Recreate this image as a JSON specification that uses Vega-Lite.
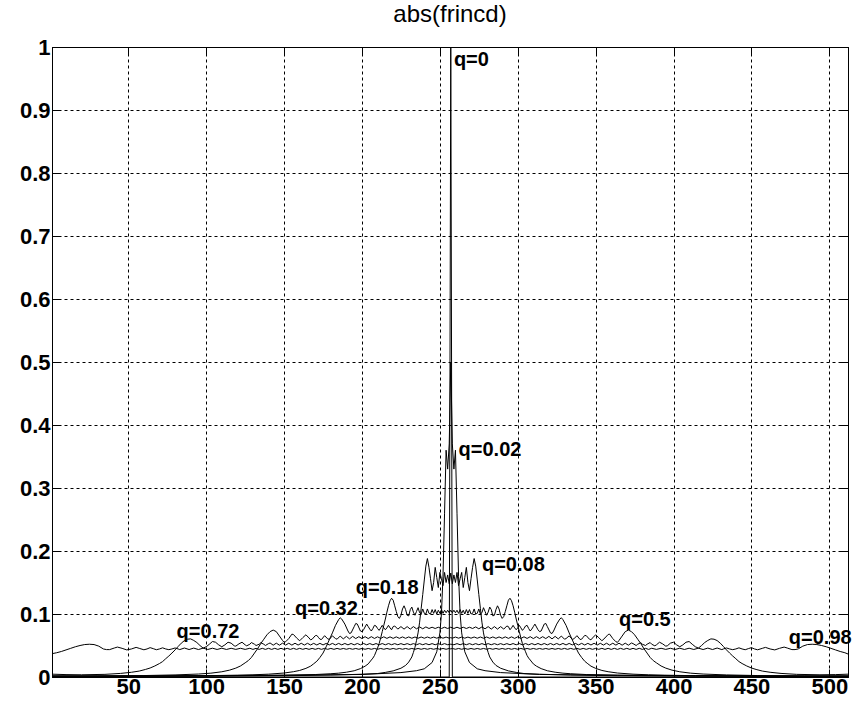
{
"$schema": "https://vega.github.io/schema/vega-lite/v6.json",
"width": 796, "height": 630,
"autosize": {"type": "none"},
"padding": {"left": 52, "top": 47, "right": 5, "bottom": 32},
"background": "white",
"title": {"text": "abs(frincd)", "fontSize": 24, "font": "Liberation Sans", "fontWeight": "normal", "color": "black", "offset": 9, "anchor": "middle"},
"config": {
  "view": {"stroke": "black", "strokeWidth": 1},
  "axis": {"domainColor": "black", "tickColor": "black", "labelColor": "black", "labelFont": "Liberation Sans", "labelFontSize": 22, "labelFontWeight": "bold", "gridColor": "black", "gridDash": [3, 3], "gridOpacity": 1, "gridWidth": 1, "tickSize": -8, "labelPadding": 8}
},
"datasets": {
"labels": [
{"t":"q=0","x":259,"y":0.98},
{"t":"q=0.02","x":262,"y":0.36},
{"t":"q=0.08","x":277,"y":0.178},
{"t":"q=0.18","x":196,"y":0.141},
{"t":"q=0.32","x":157,"y":0.108},
{"t":"q=0.72","x":81,"y":0.072},
{"t":"q=0.5","x":365,"y":0.091},
{"t":"q=0.98","x":474,"y":0.062}
],
"curves": [
{"q":"0","x":1,"y":0},{"q":"0","x":256,"y":0},{"q":"0","x":257,"y":1},{"q":"0","x":258,"y":0},{"q":"0","x":512,"y":0},
{"q":"0.02","x":1,"y":0.001},{"q":"0.02","x":100,"y":0.002},{"q":"0.02","x":200,"y":0.004},{"q":"0.02","x":225,"y":0.007},{"q":"0.02","x":235,"y":0.01},{"q":"0.02","x":240,"y":0.013},{"q":"0.02","x":245,"y":0.023},{"q":"0.02","x":248,"y":0.04},{"q":"0.02","x":250,"y":0.07},{"q":"0.02","x":251,"y":0.1},{"q":"0.02","x":252,"y":0.16},{"q":"0.02","x":253,"y":0.26},{"q":"0.02","x":254,"y":0.36},{"q":"0.02","x":255,"y":0.33},{"q":"0.02","x":256,"y":0.37},{"q":"0.02","x":257,"y":0.5},
{"q":"0.02","x":512,"y":0.001},{"q":"0.02","x":414,"y":0.002},{"q":"0.02","x":314,"y":0.004},{"q":"0.02","x":289,"y":0.007},{"q":"0.02","x":279,"y":0.01},{"q":"0.02","x":274,"y":0.013},{"q":"0.02","x":269,"y":0.023},{"q":"0.02","x":266,"y":0.04},{"q":"0.02","x":264,"y":0.07},{"q":"0.02","x":263,"y":0.1},{"q":"0.02","x":262,"y":0.16},{"q":"0.02","x":261,"y":0.26},{"q":"0.02","x":260,"y":0.36},{"q":"0.02","x":259,"y":0.33},{"q":"0.02","x":258,"y":0.37},
{"q":"0.08","x":1,"y":0.001},{"q":"0.08","x":100,"y":0.0015},{"q":"0.08","x":150,"y":0.002},{"q":"0.08","x":180,"y":0.003},{"q":"0.08","x":200,"y":0.0044},{"q":"0.08","x":210,"y":0.0055},{"q":"0.08","x":215,"y":0.0073},{"q":"0.08","x":220,"y":0.0097},{"q":"0.08","x":225,"y":0.0139},{"q":"0.08","x":228,"y":0.0184},{"q":"0.08","x":230,"y":0.0237},{"q":"0.08","x":232,"y":0.0318},{"q":"0.08","x":233,"y":0.039},{"q":"0.08","x":234,"y":0.047},{"q":"0.08","x":235,"y":0.058},{"q":"0.08","x":236,"y":0.07},{"q":"0.08","x":237,"y":0.087},{"q":"0.08","x":238,"y":0.109},{"q":"0.08","x":239,"y":0.131},{"q":"0.08","x":240,"y":0.154},{"q":"0.08","x":241,"y":0.176},{"q":"0.08","x":242,"y":0.188},{"q":"0.08","x":243,"y":0.174},{"q":"0.08","x":244,"y":0.156},{"q":"0.08","x":245,"y":0.137},{"q":"0.08","x":246,"y":0.15},{"q":"0.08","x":247,"y":0.174},{"q":"0.08","x":248,"y":0.158},{"q":"0.08","x":249,"y":0.142},{"q":"0.08","x":250,"y":0.166},{"q":"0.08","x":251,"y":0.156},{"q":"0.08","x":252,"y":0.145},{"q":"0.08","x":253,"y":0.166},{"q":"0.08","x":254,"y":0.15},{"q":"0.08","x":255,"y":0.162},{"q":"0.08","x":256,"y":0.148},{"q":"0.08","x":257,"y":0.165},
{"q":"0.08","x":512,"y":0.001},{"q":"0.08","x":414,"y":0.0015},{"q":"0.08","x":364,"y":0.002},{"q":"0.08","x":334,"y":0.003},{"q":"0.08","x":314,"y":0.0044},{"q":"0.08","x":304,"y":0.0055},{"q":"0.08","x":299,"y":0.0073},{"q":"0.08","x":294,"y":0.0097},{"q":"0.08","x":289,"y":0.0139},{"q":"0.08","x":286,"y":0.0184},{"q":"0.08","x":284,"y":0.0237},{"q":"0.08","x":282,"y":0.0318},{"q":"0.08","x":281,"y":0.039},{"q":"0.08","x":280,"y":0.047},{"q":"0.08","x":279,"y":0.058},{"q":"0.08","x":278,"y":0.07},{"q":"0.08","x":277,"y":0.087},{"q":"0.08","x":276,"y":0.109},{"q":"0.08","x":275,"y":0.131},{"q":"0.08","x":274,"y":0.154},{"q":"0.08","x":273,"y":0.176},{"q":"0.08","x":272,"y":0.188},{"q":"0.08","x":271,"y":0.174},{"q":"0.08","x":270,"y":0.156},{"q":"0.08","x":269,"y":0.137},{"q":"0.08","x":268,"y":0.15},{"q":"0.08","x":267,"y":0.174},{"q":"0.08","x":266,"y":0.158},{"q":"0.08","x":265,"y":0.142},{"q":"0.08","x":264,"y":0.166},{"q":"0.08","x":263,"y":0.156},{"q":"0.08","x":262,"y":0.145},{"q":"0.08","x":261,"y":0.166},{"q":"0.08","x":260,"y":0.15},{"q":"0.08","x":259,"y":0.162},{"q":"0.08","x":258,"y":0.148},
{"q":"0.18","x":1,"y":0.001},{"q":"0.18","x":100,"y":0.0015},{"q":"0.18","x":150,"y":0.0026},{"q":"0.18","x":170,"y":0.0039},{"q":"0.18","x":180,"y":0.0052},{"q":"0.18","x":185,"y":0.0061},{"q":"0.18","x":190,"y":0.0076},{"q":"0.18","x":195,"y":0.0099},{"q":"0.18","x":199,"y":0.0133},{"q":"0.18","x":202,"y":0.0172},{"q":"0.18","x":204,"y":0.0208},{"q":"0.18","x":206,"y":0.027},{"q":"0.18","x":207,"y":0.03},{"q":"0.18","x":208,"y":0.034},{"q":"0.18","x":209,"y":0.04},{"q":"0.18","x":210,"y":0.046},{"q":"0.18","x":211,"y":0.053},{"q":"0.18","x":212,"y":0.062},{"q":"0.18","x":213,"y":0.072},{"q":"0.18","x":214,"y":0.082},{"q":"0.18","x":215,"y":0.092},{"q":"0.18","x":216,"y":0.103},{"q":"0.18","x":217,"y":0.113},{"q":"0.18","x":218,"y":0.121},{"q":"0.18","x":219,"y":0.125},{"q":"0.18","x":220,"y":0.122},{"q":"0.18","x":221,"y":0.113},{"q":"0.18","x":222,"y":0.104},{"q":"0.18","x":223,"y":0.096},{"q":"0.18","x":224,"y":0.093},{"q":"0.18","x":225,"y":0.098},{"q":"0.18","x":226,"y":0.108},{"q":"0.18","x":227,"y":0.113},{"q":"0.18","x":228,"y":0.107},{"q":"0.18","x":229,"y":0.098},{"q":"0.18","x":230,"y":0.097},{"q":"0.18","x":231,"y":0.107},{"q":"0.18","x":232,"y":0.111},{"q":"0.18","x":233,"y":0.103},{"q":"0.18","x":234,"y":0.098},{"q":"0.18","x":235,"y":0.104},{"q":"0.18","x":236,"y":0.11},{"q":"0.18","x":237,"y":0.102},{"q":"0.18","x":238,"y":0.1},{"q":"0.18","x":239,"y":0.108},{"q":"0.18","x":240,"y":0.101},{"q":"0.18","x":241,"y":0.1},{"q":"0.18","x":242,"y":0.108},{"q":"0.18","x":243,"y":0.101},{"q":"0.18","x":244,"y":0.1},{"q":"0.18","x":245,"y":0.107},{"q":"0.18","x":246,"y":0.101},{"q":"0.18","x":247,"y":0.107},{"q":"0.18","x":248,"y":0.1},{"q":"0.18","x":249,"y":0.106},{"q":"0.18","x":250,"y":0.101},{"q":"0.18","x":251,"y":0.107},{"q":"0.18","x":252,"y":0.101},{"q":"0.18","x":253,"y":0.106},{"q":"0.18","x":254,"y":0.102},{"q":"0.18","x":255,"y":0.106},{"q":"0.18","x":256,"y":0.102},{"q":"0.18","x":257,"y":0.106},
{"q":"0.18","x":512,"y":0.001},{"q":"0.18","x":414,"y":0.0015},{"q":"0.18","x":364,"y":0.0026},{"q":"0.18","x":344,"y":0.0039},{"q":"0.18","x":334,"y":0.0052},{"q":"0.18","x":329,"y":0.0061},{"q":"0.18","x":324,"y":0.0076},{"q":"0.18","x":319,"y":0.0099},{"q":"0.18","x":315,"y":0.0133},{"q":"0.18","x":312,"y":0.0172},{"q":"0.18","x":310,"y":0.0208},{"q":"0.18","x":308,"y":0.027},{"q":"0.18","x":307,"y":0.03},{"q":"0.18","x":306,"y":0.034},{"q":"0.18","x":305,"y":0.04},{"q":"0.18","x":304,"y":0.046},{"q":"0.18","x":303,"y":0.053},{"q":"0.18","x":302,"y":0.062},{"q":"0.18","x":301,"y":0.072},{"q":"0.18","x":300,"y":0.082},{"q":"0.18","x":299,"y":0.092},{"q":"0.18","x":298,"y":0.103},{"q":"0.18","x":297,"y":0.113},{"q":"0.18","x":296,"y":0.121},{"q":"0.18","x":295,"y":0.125},{"q":"0.18","x":294,"y":0.122},{"q":"0.18","x":293,"y":0.113},{"q":"0.18","x":292,"y":0.104},{"q":"0.18","x":291,"y":0.096},{"q":"0.18","x":290,"y":0.093},{"q":"0.18","x":289,"y":0.098},{"q":"0.18","x":288,"y":0.108},{"q":"0.18","x":287,"y":0.113},{"q":"0.18","x":286,"y":0.107},{"q":"0.18","x":285,"y":0.098},{"q":"0.18","x":284,"y":0.097},{"q":"0.18","x":283,"y":0.107},{"q":"0.18","x":282,"y":0.111},{"q":"0.18","x":281,"y":0.103},{"q":"0.18","x":280,"y":0.098},{"q":"0.18","x":279,"y":0.104},{"q":"0.18","x":278,"y":0.11},{"q":"0.18","x":277,"y":0.102},{"q":"0.18","x":276,"y":0.1},{"q":"0.18","x":275,"y":0.108},{"q":"0.18","x":274,"y":0.101},{"q":"0.18","x":273,"y":0.1},{"q":"0.18","x":272,"y":0.108},{"q":"0.18","x":271,"y":0.101},{"q":"0.18","x":270,"y":0.1},{"q":"0.18","x":269,"y":0.107},{"q":"0.18","x":268,"y":0.101},{"q":"0.18","x":267,"y":0.107},{"q":"0.18","x":266,"y":0.1},{"q":"0.18","x":265,"y":0.106},{"q":"0.18","x":264,"y":0.101},{"q":"0.18","x":263,"y":0.107},{"q":"0.18","x":262,"y":0.101},{"q":"0.18","x":261,"y":0.106},{"q":"0.18","x":260,"y":0.102},{"q":"0.18","x":259,"y":0.106},{"q":"0.18","x":258,"y":0.102},
{"q":"0.32","x":1,"y":0.001},{"q":"0.32","x":60,"y":0.0014},{"q":"0.32","x":100,"y":0.0021},{"q":"0.32","x":120,"y":0.0029},{"q":"0.32","x":130,"y":0.0035},{"q":"0.32","x":140,"y":0.0045},{"q":"0.32","x":150,"y":0.0063},{"q":"0.32","x":156,"y":0.0084},{"q":"0.32","x":160,"y":0.0104},{"q":"0.32","x":164,"y":0.0137},{"q":"0.32","x":167,"y":0.0172},{"q":"0.32","x":169,"y":0.021},{"q":"0.32","x":171,"y":0.025},{"q":"0.32","x":173,"y":0.031},{"q":"0.32","x":175,"y":0.038},{"q":"0.32","x":177,"y":0.048},{"q":"0.32","x":179,"y":0.059},{"q":"0.32","x":181,"y":0.07},{"q":"0.32","x":183,"y":0.082},{"q":"0.32","x":185,"y":0.091},{"q":"0.32","x":186,"y":0.094},{"q":"0.32","x":187,"y":0.092},{"q":"0.32","x":189,"y":0.084},{"q":"0.32","x":191,"y":0.073},{"q":"0.32","x":192,"y":0.069},{"q":"0.32","x":193,"y":0.07},{"q":"0.32","x":195,"y":0.08},{"q":"0.32","x":196,"y":0.085},{"q":"0.32","x":197,"y":0.084},{"q":"0.32","x":199,"y":0.073},{"q":"0.32","x":200,"y":0.072},{"q":"0.32","x":201,"y":0.075},{"q":"0.32","x":203,"y":0.084},{"q":"0.32","x":204,"y":0.08},{"q":"0.32","x":205,"y":0.076},{"q":"0.32","x":206,"y":0.073},{"q":"0.32","x":207,"y":0.077},{"q":"0.32","x":208,"y":0.082},{"q":"0.32","x":209,"y":0.081},{"q":"0.32","x":210,"y":0.077},{"q":"0.32","x":211,"y":0.074},{"q":"0.32","x":212,"y":0.078},{"q":"0.32","x":213,"y":0.082},{"q":"0.32","x":214,"y":0.078},{"q":"0.32","x":215,"y":0.075},{"q":"0.32","x":216,"y":0.078},{"q":"0.32","x":217,"y":0.082},{"q":"0.32","x":218,"y":0.078},{"q":"0.32","x":219,"y":0.075},{"q":"0.32","x":220,"y":0.08},{"q":"0.32","x":221,"y":0.081},{"q":"0.32","x":223,"y":0.076},{"q":"0.32","x":225,"y":0.08},{"q":"0.32","x":227,"y":0.076},{"q":"0.32","x":229,"y":0.08},{"q":"0.32","x":231,"y":0.076},{"q":"0.32","x":233,"y":0.08},{"q":"0.32","x":235,"y":0.0765},{"q":"0.32","x":237,"y":0.0795},{"q":"0.32","x":239,"y":0.0765},{"q":"0.32","x":241,"y":0.0795},{"q":"0.32","x":243,"y":0.077},{"q":"0.32","x":245,"y":0.079},{"q":"0.32","x":247,"y":0.077},{"q":"0.32","x":249,"y":0.079},{"q":"0.32","x":251,"y":0.077},{"q":"0.32","x":253,"y":0.079},{"q":"0.32","x":255,"y":0.077},{"q":"0.32","x":257,"y":0.079},
{"q":"0.32","x":512,"y":0.001},{"q":"0.32","x":454,"y":0.0014},{"q":"0.32","x":414,"y":0.0021},{"q":"0.32","x":394,"y":0.0029},{"q":"0.32","x":384,"y":0.0035},{"q":"0.32","x":374,"y":0.0045},{"q":"0.32","x":364,"y":0.0063},{"q":"0.32","x":358,"y":0.0084},{"q":"0.32","x":354,"y":0.0104},{"q":"0.32","x":350,"y":0.0137},{"q":"0.32","x":347,"y":0.0172},{"q":"0.32","x":345,"y":0.021},{"q":"0.32","x":343,"y":0.025},{"q":"0.32","x":341,"y":0.031},{"q":"0.32","x":339,"y":0.038},{"q":"0.32","x":337,"y":0.048},{"q":"0.32","x":335,"y":0.059},{"q":"0.32","x":333,"y":0.07},{"q":"0.32","x":331,"y":0.082},{"q":"0.32","x":329,"y":0.091},{"q":"0.32","x":328,"y":0.094},{"q":"0.32","x":327,"y":0.092},{"q":"0.32","x":325,"y":0.084},{"q":"0.32","x":323,"y":0.073},{"q":"0.32","x":322,"y":0.069},{"q":"0.32","x":321,"y":0.07},{"q":"0.32","x":319,"y":0.08},{"q":"0.32","x":318,"y":0.085},{"q":"0.32","x":317,"y":0.084},{"q":"0.32","x":315,"y":0.073},{"q":"0.32","x":314,"y":0.072},{"q":"0.32","x":313,"y":0.075},{"q":"0.32","x":311,"y":0.084},{"q":"0.32","x":310,"y":0.08},{"q":"0.32","x":309,"y":0.076},{"q":"0.32","x":308,"y":0.073},{"q":"0.32","x":307,"y":0.077},{"q":"0.32","x":306,"y":0.082},{"q":"0.32","x":305,"y":0.081},{"q":"0.32","x":304,"y":0.077},{"q":"0.32","x":303,"y":0.074},{"q":"0.32","x":302,"y":0.078},{"q":"0.32","x":301,"y":0.082},{"q":"0.32","x":300,"y":0.078},{"q":"0.32","x":299,"y":0.075},{"q":"0.32","x":298,"y":0.078},{"q":"0.32","x":297,"y":0.082},{"q":"0.32","x":296,"y":0.078},{"q":"0.32","x":295,"y":0.075},{"q":"0.32","x":294,"y":0.08},{"q":"0.32","x":293,"y":0.081},{"q":"0.32","x":291,"y":0.076},{"q":"0.32","x":289,"y":0.08},{"q":"0.32","x":287,"y":0.076},{"q":"0.32","x":285,"y":0.08},{"q":"0.32","x":283,"y":0.076},{"q":"0.32","x":281,"y":0.08},{"q":"0.32","x":279,"y":0.0765},{"q":"0.32","x":277,"y":0.0795},{"q":"0.32","x":275,"y":0.0765},{"q":"0.32","x":273,"y":0.0795},{"q":"0.32","x":271,"y":0.077},{"q":"0.32","x":269,"y":0.079},{"q":"0.32","x":267,"y":0.077},{"q":"0.32","x":265,"y":0.079},{"q":"0.32","x":263,"y":0.077},{"q":"0.32","x":261,"y":0.079},{"q":"0.32","x":259,"y":0.077},
{"q":"0.5","x":1,"y":0.002},{"q":"0.5","x":30,"y":0.0018},{"q":"0.5","x":60,"y":0.0023},{"q":"0.5","x":80,"y":0.0033},{"q":"0.5","x":95,"y":0.0047},{"q":"0.5","x":103,"y":0.0061},{"q":"0.5","x":110,"y":0.0083},{"q":"0.5","x":115,"y":0.0109},{"q":"0.5","x":119,"y":0.0141},{"q":"0.5","x":122,"y":0.0175},{"q":"0.5","x":125,"y":0.0225},{"q":"0.5","x":127,"y":0.026},{"q":"0.5","x":129,"y":0.031},{"q":"0.5","x":131,"y":0.038},{"q":"0.5","x":133,"y":0.045},{"q":"0.5","x":135,"y":0.053},{"q":"0.5","x":137,"y":0.06},{"q":"0.5","x":139,"y":0.067},{"q":"0.5","x":141,"y":0.072},{"q":"0.5","x":143,"y":0.0745},{"q":"0.5","x":145,"y":0.072},{"q":"0.5","x":147,"y":0.065},{"q":"0.5","x":149,"y":0.058},{"q":"0.5","x":150,"y":0.055},{"q":"0.5","x":151,"y":0.056},{"q":"0.5","x":153,"y":0.061},{"q":"0.5","x":155,"y":0.068},{"q":"0.5","x":156,"y":0.0675},{"q":"0.5","x":158,"y":0.062},{"q":"0.5","x":160,"y":0.0575},{"q":"0.5","x":162,"y":0.0625},{"q":"0.5","x":164,"y":0.067},{"q":"0.5","x":166,"y":0.062},{"q":"0.5","x":167,"y":0.059},{"q":"0.5","x":168,"y":0.06},{"q":"0.5","x":170,"y":0.0656},{"q":"0.5","x":171,"y":0.066},{"q":"0.5","x":172,"y":0.063},{"q":"0.5","x":173,"y":0.06},{"q":"0.5","x":174,"y":0.0595},{"q":"0.5","x":176,"y":0.0656},{"q":"0.5","x":178,"y":0.0605},{"q":"0.5","x":179,"y":0.0597},{"q":"0.5","x":181,"y":0.0653},{"q":"0.5","x":183,"y":0.061},{"q":"0.5","x":184,"y":0.06},{"q":"0.5","x":186,"y":0.065},{"q":"0.5","x":188,"y":0.0605},{"q":"0.5","x":190,"y":0.0645},{"q":"0.5","x":192,"y":0.0605},{"q":"0.5","x":194,"y":0.0645},{"q":"0.5","x":196,"y":0.061},{"q":"0.5","x":198,"y":0.064},{"q":"0.5","x":200,"y":0.061},{"q":"0.5","x":202,"y":0.064},{"q":"0.5","x":204,"y":0.061},{"q":"0.5","x":206,"y":0.064},{"q":"0.5","x":208,"y":0.0612},{"q":"0.5","x":210,"y":0.0638},{"q":"0.5","x":212,"y":0.0612},{"q":"0.5","x":214,"y":0.0638},{"q":"0.5","x":216,"y":0.0613},{"q":"0.5","x":218,"y":0.0637},{"q":"0.5","x":220,"y":0.0613},{"q":"0.5","x":222,"y":0.0637},{"q":"0.5","x":224,"y":0.0614},{"q":"0.5","x":226,"y":0.0636},{"q":"0.5","x":228,"y":0.0614},{"q":"0.5","x":230,"y":0.0636},{"q":"0.5","x":232,"y":0.0615},{"q":"0.5","x":234,"y":0.0635},{"q":"0.5","x":236,"y":0.0615},{"q":"0.5","x":238,"y":0.0635},{"q":"0.5","x":240,"y":0.0615},{"q":"0.5","x":242,"y":0.0635},{"q":"0.5","x":244,"y":0.0616},{"q":"0.5","x":246,"y":0.0634},{"q":"0.5","x":248,"y":0.0616},{"q":"0.5","x":250,"y":0.0634},{"q":"0.5","x":252,"y":0.0616},{"q":"0.5","x":254,"y":0.0634},{"q":"0.5","x":256,"y":0.0616},{"q":"0.5","x":257,"y":0.0625},
{"q":"0.5","x":512,"y":0.002},{"q":"0.5","x":484,"y":0.0018},{"q":"0.5","x":454,"y":0.0023},{"q":"0.5","x":434,"y":0.0033},{"q":"0.5","x":419,"y":0.0047},{"q":"0.5","x":411,"y":0.0061},{"q":"0.5","x":404,"y":0.0083},{"q":"0.5","x":399,"y":0.0109},{"q":"0.5","x":395,"y":0.0141},{"q":"0.5","x":392,"y":0.0175},{"q":"0.5","x":389,"y":0.0225},{"q":"0.5","x":387,"y":0.026},{"q":"0.5","x":385,"y":0.031},{"q":"0.5","x":383,"y":0.038},{"q":"0.5","x":381,"y":0.045},{"q":"0.5","x":379,"y":0.053},{"q":"0.5","x":377,"y":0.06},{"q":"0.5","x":375,"y":0.067},{"q":"0.5","x":373,"y":0.072},{"q":"0.5","x":371,"y":0.0745},{"q":"0.5","x":369,"y":0.072},{"q":"0.5","x":367,"y":0.065},{"q":"0.5","x":365,"y":0.058},{"q":"0.5","x":364,"y":0.055},{"q":"0.5","x":363,"y":0.056},{"q":"0.5","x":361,"y":0.061},{"q":"0.5","x":359,"y":0.068},{"q":"0.5","x":358,"y":0.0675},{"q":"0.5","x":356,"y":0.062},{"q":"0.5","x":354,"y":0.0575},{"q":"0.5","x":352,"y":0.0625},{"q":"0.5","x":350,"y":0.067},{"q":"0.5","x":348,"y":0.062},{"q":"0.5","x":347,"y":0.059},{"q":"0.5","x":346,"y":0.06},{"q":"0.5","x":344,"y":0.0656},{"q":"0.5","x":343,"y":0.066},{"q":"0.5","x":342,"y":0.063},{"q":"0.5","x":341,"y":0.06},{"q":"0.5","x":340,"y":0.0595},{"q":"0.5","x":338,"y":0.0656},{"q":"0.5","x":336,"y":0.0605},{"q":"0.5","x":335,"y":0.0597},{"q":"0.5","x":333,"y":0.0653},{"q":"0.5","x":331,"y":0.061},{"q":"0.5","x":330,"y":0.06},{"q":"0.5","x":328,"y":0.065},{"q":"0.5","x":326,"y":0.0605},{"q":"0.5","x":324,"y":0.0645},{"q":"0.5","x":322,"y":0.0605},{"q":"0.5","x":320,"y":0.0645},{"q":"0.5","x":318,"y":0.061},{"q":"0.5","x":316,"y":0.064},{"q":"0.5","x":314,"y":0.061},{"q":"0.5","x":312,"y":0.064},{"q":"0.5","x":310,"y":0.061},{"q":"0.5","x":308,"y":0.064},{"q":"0.5","x":306,"y":0.0612},{"q":"0.5","x":304,"y":0.0638},{"q":"0.5","x":302,"y":0.0612},{"q":"0.5","x":300,"y":0.0638},{"q":"0.5","x":298,"y":0.0613},{"q":"0.5","x":296,"y":0.0637},{"q":"0.5","x":294,"y":0.0613},{"q":"0.5","x":292,"y":0.0637},{"q":"0.5","x":290,"y":0.0614},{"q":"0.5","x":288,"y":0.0636},{"q":"0.5","x":286,"y":0.0614},{"q":"0.5","x":284,"y":0.0636},{"q":"0.5","x":282,"y":0.0615},{"q":"0.5","x":280,"y":0.0635},{"q":"0.5","x":278,"y":0.0615},{"q":"0.5","x":276,"y":0.0635},{"q":"0.5","x":274,"y":0.0615},{"q":"0.5","x":272,"y":0.0635},{"q":"0.5","x":270,"y":0.0616},{"q":"0.5","x":268,"y":0.0634},{"q":"0.5","x":266,"y":0.0616},{"q":"0.5","x":264,"y":0.0634},{"q":"0.5","x":262,"y":0.0616},{"q":"0.5","x":260,"y":0.0634},{"q":"0.5","x":258,"y":0.0616},
{"q":"0.72","x":1,"y":0.0045},{"q":"0.72","x":10,"y":0.0038},{"q":"0.72","x":20,"y":0.0035},{"q":"0.72","x":35,"y":0.0042},{"q":"0.72","x":45,"y":0.0057},{"q":"0.72","x":52,"y":0.0075},{"q":"0.72","x":57,"y":0.0094},{"q":"0.72","x":61,"y":0.012},{"q":"0.72","x":64,"y":0.0143},{"q":"0.72","x":67,"y":0.0175},{"q":"0.72","x":70,"y":0.0214},{"q":"0.72","x":72,"y":0.0245},{"q":"0.72","x":74,"y":0.029},{"q":"0.72","x":76,"y":0.0333},{"q":"0.72","x":78,"y":0.038},{"q":"0.72","x":80,"y":0.043},{"q":"0.72","x":82,"y":0.0485},{"q":"0.72","x":84,"y":0.0537},{"q":"0.72","x":86,"y":0.0578},{"q":"0.72","x":88,"y":0.06},{"q":"0.72","x":90,"y":0.0605},{"q":"0.72","x":92,"y":0.058},{"q":"0.72","x":94,"y":0.0547},{"q":"0.72","x":96,"y":0.05},{"q":"0.72","x":98,"y":0.0459},{"q":"0.72","x":100,"y":0.048},{"q":"0.72","x":102,"y":0.052},{"q":"0.72","x":104,"y":0.0563},{"q":"0.72","x":106,"y":0.0552},{"q":"0.72","x":108,"y":0.051},{"q":"0.72","x":110,"y":0.048},{"q":"0.72","x":112,"y":0.051},{"q":"0.72","x":114,"y":0.0552},{"q":"0.72","x":116,"y":0.0537},{"q":"0.72","x":118,"y":0.0495},{"q":"0.72","x":119,"y":0.049},{"q":"0.72","x":121,"y":0.0526},{"q":"0.72","x":123,"y":0.0552},{"q":"0.72","x":125,"y":0.051},{"q":"0.72","x":126,"y":0.0495},{"q":"0.72","x":128,"y":0.052},{"q":"0.72","x":129,"y":0.0547},{"q":"0.72","x":131,"y":0.052},{"q":"0.72","x":132,"y":0.05},{"q":"0.72","x":134,"y":0.052},{"q":"0.72","x":135,"y":0.0544},{"q":"0.72","x":137,"y":0.052},{"q":"0.72","x":138,"y":0.05},{"q":"0.72","x":140,"y":0.053},{"q":"0.72","x":141,"y":0.054},
{"q":"0.72","x":143,"y":0.0505},{"q":"0.72","x":145,"y":0.0537},{"q":"0.72","x":147,"y":0.0505},{"q":"0.72","x":149,"y":0.0537},{"q":"0.72","x":151,"y":0.0506},{"q":"0.72","x":153,"y":0.0536},{"q":"0.72","x":155,"y":0.0506},{"q":"0.72","x":157,"y":0.0536},{"q":"0.72","x":159,"y":0.0507},{"q":"0.72","x":161,"y":0.0535},{"q":"0.72","x":163,"y":0.0507},{"q":"0.72","x":165,"y":0.0535},{"q":"0.72","x":167,"y":0.0508},{"q":"0.72","x":169,"y":0.0534},{"q":"0.72","x":171,"y":0.0508},{"q":"0.72","x":173,"y":0.0534},{"q":"0.72","x":175,"y":0.0509},{"q":"0.72","x":177,"y":0.0533},{"q":"0.72","x":179,"y":0.0509},{"q":"0.72","x":181,"y":0.0533},{"q":"0.72","x":183,"y":0.0509},{"q":"0.72","x":185,"y":0.0533},{"q":"0.72","x":187,"y":0.051},{"q":"0.72","x":189,"y":0.0532},{"q":"0.72","x":191,"y":0.051},{"q":"0.72","x":193,"y":0.0532},{"q":"0.72","x":195,"y":0.051},{"q":"0.72","x":197,"y":0.0532},{"q":"0.72","x":199,"y":0.051},{"q":"0.72","x":201,"y":0.0532},{"q":"0.72","x":203,"y":0.0511},{"q":"0.72","x":205,"y":0.0531},{"q":"0.72","x":207,"y":0.0511},{"q":"0.72","x":209,"y":0.0531},{"q":"0.72","x":211,"y":0.0511},{"q":"0.72","x":213,"y":0.0531},{"q":"0.72","x":215,"y":0.0511},{"q":"0.72","x":217,"y":0.0531},{"q":"0.72","x":219,"y":0.0512},{"q":"0.72","x":221,"y":0.053},{"q":"0.72","x":223,"y":0.0512},{"q":"0.72","x":225,"y":0.053},{"q":"0.72","x":227,"y":0.0512},{"q":"0.72","x":229,"y":0.053},{"q":"0.72","x":231,"y":0.0512},{"q":"0.72","x":233,"y":0.053},{"q":"0.72","x":235,"y":0.0512},{"q":"0.72","x":237,"y":0.053},{"q":"0.72","x":239,"y":0.0512},{"q":"0.72","x":241,"y":0.053},{"q":"0.72","x":243,"y":0.0512},{"q":"0.72","x":245,"y":0.053},{"q":"0.72","x":247,"y":0.0512},{"q":"0.72","x":249,"y":0.053},{"q":"0.72","x":251,"y":0.0512},{"q":"0.72","x":253,"y":0.053},{"q":"0.72","x":255,"y":0.0512},{"q":"0.72","x":257,"y":0.0521},
{"q":"0.72","x":512,"y":0.0045},{"q":"0.72","x":504,"y":0.0038},{"q":"0.72","x":494,"y":0.0035},{"q":"0.72","x":479,"y":0.0042},{"q":"0.72","x":469,"y":0.0057},{"q":"0.72","x":462,"y":0.0075},{"q":"0.72","x":457,"y":0.0094},{"q":"0.72","x":453,"y":0.012},{"q":"0.72","x":450,"y":0.0143},{"q":"0.72","x":447,"y":0.0175},{"q":"0.72","x":444,"y":0.0214},{"q":"0.72","x":442,"y":0.0245},{"q":"0.72","x":440,"y":0.029},{"q":"0.72","x":438,"y":0.0333},{"q":"0.72","x":436,"y":0.038},{"q":"0.72","x":434,"y":0.043},{"q":"0.72","x":432,"y":0.0485},{"q":"0.72","x":430,"y":0.0537},{"q":"0.72","x":428,"y":0.0578},{"q":"0.72","x":426,"y":0.06},{"q":"0.72","x":424,"y":0.0605},{"q":"0.72","x":422,"y":0.058},{"q":"0.72","x":420,"y":0.0547},{"q":"0.72","x":418,"y":0.05},{"q":"0.72","x":416,"y":0.0459},{"q":"0.72","x":414,"y":0.048},{"q":"0.72","x":412,"y":0.052},{"q":"0.72","x":410,"y":0.0563},{"q":"0.72","x":408,"y":0.0552},{"q":"0.72","x":406,"y":0.051},{"q":"0.72","x":404,"y":0.048},{"q":"0.72","x":402,"y":0.051},{"q":"0.72","x":400,"y":0.0552},{"q":"0.72","x":398,"y":0.0537},{"q":"0.72","x":396,"y":0.0495},{"q":"0.72","x":395,"y":0.049},{"q":"0.72","x":393,"y":0.0526},{"q":"0.72","x":391,"y":0.0552},{"q":"0.72","x":389,"y":0.051},{"q":"0.72","x":388,"y":0.0495},{"q":"0.72","x":386,"y":0.052},{"q":"0.72","x":385,"y":0.0547},{"q":"0.72","x":383,"y":0.052},{"q":"0.72","x":382,"y":0.05},{"q":"0.72","x":380,"y":0.052},{"q":"0.72","x":379,"y":0.0544},{"q":"0.72","x":377,"y":0.052},{"q":"0.72","x":376,"y":0.05},{"q":"0.72","x":374,"y":0.053},{"q":"0.72","x":373,"y":0.054},
{"q":"0.72","x":371,"y":0.0505},{"q":"0.72","x":369,"y":0.0537},{"q":"0.72","x":367,"y":0.0505},{"q":"0.72","x":365,"y":0.0537},{"q":"0.72","x":363,"y":0.0506},{"q":"0.72","x":361,"y":0.0536},{"q":"0.72","x":359,"y":0.0506},{"q":"0.72","x":357,"y":0.0536},{"q":"0.72","x":355,"y":0.0507},{"q":"0.72","x":353,"y":0.0535},{"q":"0.72","x":351,"y":0.0507},{"q":"0.72","x":349,"y":0.0535},{"q":"0.72","x":347,"y":0.0508},{"q":"0.72","x":345,"y":0.0534},{"q":"0.72","x":343,"y":0.0508},{"q":"0.72","x":341,"y":0.0534},{"q":"0.72","x":339,"y":0.0509},{"q":"0.72","x":337,"y":0.0533},{"q":"0.72","x":335,"y":0.0509},{"q":"0.72","x":333,"y":0.0533},{"q":"0.72","x":331,"y":0.0509},{"q":"0.72","x":329,"y":0.0533},{"q":"0.72","x":327,"y":0.051},{"q":"0.72","x":325,"y":0.0532},{"q":"0.72","x":323,"y":0.051},{"q":"0.72","x":321,"y":0.0532},{"q":"0.72","x":319,"y":0.051},{"q":"0.72","x":317,"y":0.0532},{"q":"0.72","x":315,"y":0.051},{"q":"0.72","x":313,"y":0.0532},{"q":"0.72","x":311,"y":0.0511},{"q":"0.72","x":309,"y":0.0531},{"q":"0.72","x":307,"y":0.0511},{"q":"0.72","x":305,"y":0.0531},{"q":"0.72","x":303,"y":0.0511},{"q":"0.72","x":301,"y":0.0531},{"q":"0.72","x":299,"y":0.0511},{"q":"0.72","x":297,"y":0.0531},{"q":"0.72","x":295,"y":0.0512},{"q":"0.72","x":293,"y":0.053},{"q":"0.72","x":291,"y":0.0512},{"q":"0.72","x":289,"y":0.053},{"q":"0.72","x":287,"y":0.0512},{"q":"0.72","x":285,"y":0.053},{"q":"0.72","x":283,"y":0.0512},{"q":"0.72","x":281,"y":0.053},{"q":"0.72","x":279,"y":0.0512},{"q":"0.72","x":277,"y":0.053},{"q":"0.72","x":275,"y":0.0512},{"q":"0.72","x":273,"y":0.053},{"q":"0.72","x":271,"y":0.0512},{"q":"0.72","x":269,"y":0.053},{"q":"0.72","x":267,"y":0.0512},{"q":"0.72","x":265,"y":0.053},{"q":"0.72","x":263,"y":0.0512},{"q":"0.72","x":261,"y":0.053},{"q":"0.72","x":259,"y":0.0512},
{"q":"0.98","x":1,"y":0.037},{"q":"0.98","x":4,"y":0.0385},{"q":"0.98","x":7,"y":0.0405},{"q":"0.98","x":10,"y":0.043},{"q":"0.98","x":13,"y":0.0455},{"q":"0.98","x":16,"y":0.048},{"q":"0.98","x":19,"y":0.05},{"q":"0.98","x":22,"y":0.0515},{"q":"0.98","x":25,"y":0.052},{"q":"0.98","x":28,"y":0.0515},{"q":"0.98","x":31,"y":0.049},{"q":"0.98","x":34,"y":0.0445},{"q":"0.98","x":36,"y":0.0435},{"q":"0.98","x":38,"y":0.0435},{"q":"0.98","x":41,"y":0.046},{"q":"0.98","x":43,"y":0.0475},{"q":"0.98","x":46,"y":0.0455},{"q":"0.98","x":49,"y":0.043},{"q":"0.98","x":52,"y":0.0445},{"q":"0.98","x":55,"y":0.047},{"q":"0.98","x":57,"y":0.0455},{"q":"0.98","x":60,"y":0.0432},{"q":"0.98","x":62,"y":0.0445},{"q":"0.98","x":64,"y":0.0466},{"q":"0.98","x":66,"y":0.045},{"q":"0.98","x":68,"y":0.0433},{"q":"0.98","x":70,"y":0.0445},{"q":"0.98","x":72,"y":0.0463},{"q":"0.98","x":74,"y":0.0445},{"q":"0.98","x":76,"y":0.0434},{"q":"0.98","x":78,"y":0.0445},{"q":"0.98","x":80,"y":0.0461},{"q":"0.98","x":82,"y":0.0445},{"q":"0.98","x":83,"y":0.0435},{"q":"0.98","x":86,"y":0.046},{"q":"0.98","x":89,"y":0.0436},{"q":"0.98","x":92,"y":0.0459},{"q":"0.98","x":95,"y":0.0436},{"q":"0.98","x":98,"y":0.0458},{"q":"0.98","x":101,"y":0.0437},{"q":"0.98","x":104,"y":0.0457},{"q":"0.98","x":107,"y":0.0437},{"q":"0.98","x":110,"y":0.0457},{"q":"0.98","x":113,"y":0.0437},{"q":"0.98","x":116,"y":0.0456},{"q":"0.98","x":119,"y":0.0438},{"q":"0.98","x":122,"y":0.0456},{"q":"0.98","x":125,"y":0.0438},{"q":"0.98","x":128,"y":0.0456},
{"q":"0.98","x":130,"y":0.0438},{"q":"0.98","x":132,"y":0.0455},{"q":"0.98","x":134,"y":0.0438},{"q":"0.98","x":136,"y":0.0455},{"q":"0.98","x":138,"y":0.0438},{"q":"0.98","x":140,"y":0.0455},{"q":"0.98","x":142,"y":0.0438},{"q":"0.98","x":144,"y":0.0455},{"q":"0.98","x":146,"y":0.0438},{"q":"0.98","x":148,"y":0.0455},{"q":"0.98","x":150,"y":0.0438},{"q":"0.98","x":152,"y":0.0455},{"q":"0.98","x":154,"y":0.0438},{"q":"0.98","x":156,"y":0.0455},{"q":"0.98","x":158,"y":0.0438},{"q":"0.98","x":160,"y":0.0455},{"q":"0.98","x":162,"y":0.0439},{"q":"0.98","x":164,"y":0.0454},{"q":"0.98","x":166,"y":0.0439},{"q":"0.98","x":168,"y":0.0454},{"q":"0.98","x":170,"y":0.0439},{"q":"0.98","x":172,"y":0.0454},{"q":"0.98","x":174,"y":0.0439},{"q":"0.98","x":176,"y":0.0454},{"q":"0.98","x":178,"y":0.0439},{"q":"0.98","x":180,"y":0.0454},{"q":"0.98","x":182,"y":0.0439},{"q":"0.98","x":184,"y":0.0454},{"q":"0.98","x":186,"y":0.044},{"q":"0.98","x":188,"y":0.0453},{"q":"0.98","x":190,"y":0.044},{"q":"0.98","x":192,"y":0.0453},{"q":"0.98","x":194,"y":0.044},{"q":"0.98","x":196,"y":0.0453},{"q":"0.98","x":198,"y":0.044},{"q":"0.98","x":200,"y":0.0453},{"q":"0.98","x":202,"y":0.044},{"q":"0.98","x":204,"y":0.0453},{"q":"0.98","x":206,"y":0.044},{"q":"0.98","x":208,"y":0.0453},{"q":"0.98","x":210,"y":0.044},{"q":"0.98","x":212,"y":0.0453},{"q":"0.98","x":214,"y":0.044},{"q":"0.98","x":216,"y":0.0453},{"q":"0.98","x":218,"y":0.044},{"q":"0.98","x":220,"y":0.0453},{"q":"0.98","x":222,"y":0.044},{"q":"0.98","x":224,"y":0.0453},{"q":"0.98","x":226,"y":0.044},{"q":"0.98","x":228,"y":0.0453},{"q":"0.98","x":230,"y":0.044},{"q":"0.98","x":232,"y":0.0453},{"q":"0.98","x":234,"y":0.044},{"q":"0.98","x":236,"y":0.0453},{"q":"0.98","x":238,"y":0.044},{"q":"0.98","x":240,"y":0.0453},{"q":"0.98","x":242,"y":0.044},{"q":"0.98","x":244,"y":0.0453},{"q":"0.98","x":246,"y":0.044},{"q":"0.98","x":248,"y":0.0453},{"q":"0.98","x":250,"y":0.044},{"q":"0.98","x":252,"y":0.0453},{"q":"0.98","x":254,"y":0.044},{"q":"0.98","x":256,"y":0.0453},{"q":"0.98","x":257,"y":0.0446},
{"q":"0.98","x":512,"y":0.0365},{"q":"0.98","x":510,"y":0.0385},{"q":"0.98","x":507,"y":0.0405},{"q":"0.98","x":504,"y":0.043},{"q":"0.98","x":501,"y":0.0455},{"q":"0.98","x":498,"y":0.048},{"q":"0.98","x":495,"y":0.05},{"q":"0.98","x":492,"y":0.0515},{"q":"0.98","x":489,"y":0.052},{"q":"0.98","x":486,"y":0.0515},{"q":"0.98","x":483,"y":0.049},{"q":"0.98","x":480,"y":0.0445},{"q":"0.98","x":478,"y":0.0435},{"q":"0.98","x":476,"y":0.0435},{"q":"0.98","x":473,"y":0.046},{"q":"0.98","x":471,"y":0.0475},{"q":"0.98","x":468,"y":0.0455},{"q":"0.98","x":465,"y":0.043},{"q":"0.98","x":462,"y":0.0445},{"q":"0.98","x":459,"y":0.047},{"q":"0.98","x":457,"y":0.0455},{"q":"0.98","x":454,"y":0.0432},{"q":"0.98","x":452,"y":0.0445},{"q":"0.98","x":450,"y":0.0466},{"q":"0.98","x":448,"y":0.045},{"q":"0.98","x":446,"y":0.0433},{"q":"0.98","x":444,"y":0.0445},{"q":"0.98","x":442,"y":0.0463},{"q":"0.98","x":440,"y":0.0445},{"q":"0.98","x":438,"y":0.0434},{"q":"0.98","x":436,"y":0.0445},{"q":"0.98","x":434,"y":0.0461},{"q":"0.98","x":432,"y":0.0445},{"q":"0.98","x":431,"y":0.0435},{"q":"0.98","x":428,"y":0.046},{"q":"0.98","x":425,"y":0.0436},{"q":"0.98","x":422,"y":0.0459},{"q":"0.98","x":419,"y":0.0436},{"q":"0.98","x":416,"y":0.0458},{"q":"0.98","x":413,"y":0.0437},{"q":"0.98","x":410,"y":0.0457},{"q":"0.98","x":407,"y":0.0437},{"q":"0.98","x":404,"y":0.0457},{"q":"0.98","x":401,"y":0.0437},{"q":"0.98","x":398,"y":0.0456},{"q":"0.98","x":395,"y":0.0438},{"q":"0.98","x":392,"y":0.0456},{"q":"0.98","x":389,"y":0.0438},{"q":"0.98","x":386,"y":0.0456},
{"q":"0.98","x":384,"y":0.0438},{"q":"0.98","x":382,"y":0.0455},{"q":"0.98","x":380,"y":0.0438},{"q":"0.98","x":378,"y":0.0455},{"q":"0.98","x":376,"y":0.0438},{"q":"0.98","x":374,"y":0.0455},{"q":"0.98","x":372,"y":0.0438},{"q":"0.98","x":370,"y":0.0455},{"q":"0.98","x":368,"y":0.0438},{"q":"0.98","x":366,"y":0.0455},{"q":"0.98","x":364,"y":0.0438},{"q":"0.98","x":362,"y":0.0455},{"q":"0.98","x":360,"y":0.0438},{"q":"0.98","x":358,"y":0.0455},{"q":"0.98","x":356,"y":0.0438},{"q":"0.98","x":354,"y":0.0455},{"q":"0.98","x":352,"y":0.0439},{"q":"0.98","x":350,"y":0.0454},{"q":"0.98","x":348,"y":0.0439},{"q":"0.98","x":346,"y":0.0454},{"q":"0.98","x":344,"y":0.0439},{"q":"0.98","x":342,"y":0.0454},{"q":"0.98","x":340,"y":0.0439},{"q":"0.98","x":338,"y":0.0454},{"q":"0.98","x":336,"y":0.0439},{"q":"0.98","x":334,"y":0.0454},{"q":"0.98","x":332,"y":0.0439},{"q":"0.98","x":330,"y":0.0454},{"q":"0.98","x":328,"y":0.044},{"q":"0.98","x":326,"y":0.0453},{"q":"0.98","x":324,"y":0.044},{"q":"0.98","x":322,"y":0.0453},{"q":"0.98","x":320,"y":0.044},{"q":"0.98","x":318,"y":0.0453},{"q":"0.98","x":316,"y":0.044},{"q":"0.98","x":314,"y":0.0453},{"q":"0.98","x":312,"y":0.044},{"q":"0.98","x":310,"y":0.0453},{"q":"0.98","x":308,"y":0.044},{"q":"0.98","x":306,"y":0.0453},{"q":"0.98","x":304,"y":0.044},{"q":"0.98","x":302,"y":0.0453},{"q":"0.98","x":300,"y":0.044},{"q":"0.98","x":298,"y":0.0453},{"q":"0.98","x":296,"y":0.044},{"q":"0.98","x":294,"y":0.0453},{"q":"0.98","x":292,"y":0.044},{"q":"0.98","x":290,"y":0.0453},{"q":"0.98","x":288,"y":0.044},{"q":"0.98","x":286,"y":0.0453},{"q":"0.98","x":284,"y":0.044},{"q":"0.98","x":282,"y":0.0453},{"q":"0.98","x":280,"y":0.044},{"q":"0.98","x":278,"y":0.0453},{"q":"0.98","x":276,"y":0.044},{"q":"0.98","x":274,"y":0.0453},{"q":"0.98","x":272,"y":0.044},{"q":"0.98","x":270,"y":0.0453},{"q":"0.98","x":268,"y":0.044},{"q":"0.98","x":266,"y":0.0453},{"q":"0.98","x":264,"y":0.044},{"q":"0.98","x":262,"y":0.0453},{"q":"0.98","x":260,"y":0.044},{"q":"0.98","x":258,"y":0.0453}
]
},
"layer": [
{
  "data": {"name": "curves"},
  "mark": {"type": "line", "color": "black", "strokeWidth": 1, "clip": true},
  "encoding": {
    "x": {"field": "x", "type": "quantitative", "scale": {"domain": [1, 512], "nice": false, "zero": false},
          "axis": {"orient": "bottom", "title": null, "grid": true, "values": [50,100,150,200,250,300,350,400,450,500], "labelPadding": 7}},
    "y": {"field": "y", "type": "quantitative", "scale": {"domain": [0, 1], "nice": false, "zero": true},
          "axis": {"orient": "left", "title": null, "grid": true, "values": [0,0.1,0.2,0.3,0.4,0.5,0.6,0.7,0.8,0.9,1], "format": ".1~f", "labelPadding": 10}},
    "detail": {"field": "q", "type": "nominal"}
  }
},
{
  "data": {"name": "labels"},
  "mark": {"type": "text", "align": "left", "baseline": "middle", "font": "Liberation Sans", "fontSize": 20, "fontWeight": "bold", "color": "black"},
  "encoding": {
    "x": {"field": "x", "type": "quantitative", "scale": {"domain": [1, 512], "nice": false, "zero": false}, "axis": null},
    "y": {"field": "y", "type": "quantitative", "scale": {"domain": [0, 1], "nice": false, "zero": true}, "axis": null},
    "text": {"field": "t", "type": "nominal"}
  }
},
{
  "data": {"name": "labels"},
  "mark": {"type": "point", "opacity": 0},
  "encoding": {
    "x": {"field": "x", "type": "quantitative", "scale": {"domain": [1, 512], "nice": false, "zero": false},
          "axis": {"orient": "top", "title": null, "grid": false, "labels": false, "values": [50,100,150,200,250,300,350,400,450,500]}},
    "y": {"field": "y", "type": "quantitative", "scale": {"domain": [0, 1], "nice": false, "zero": true},
          "axis": {"orient": "right", "title": null, "grid": false, "labels": false, "values": [0,0.1,0.2,0.3,0.4,0.5,0.6,0.7,0.8,0.9,1]}}
  }
}
],
"resolve": {"axis": {"x": "independent", "y": "independent"}}
}
